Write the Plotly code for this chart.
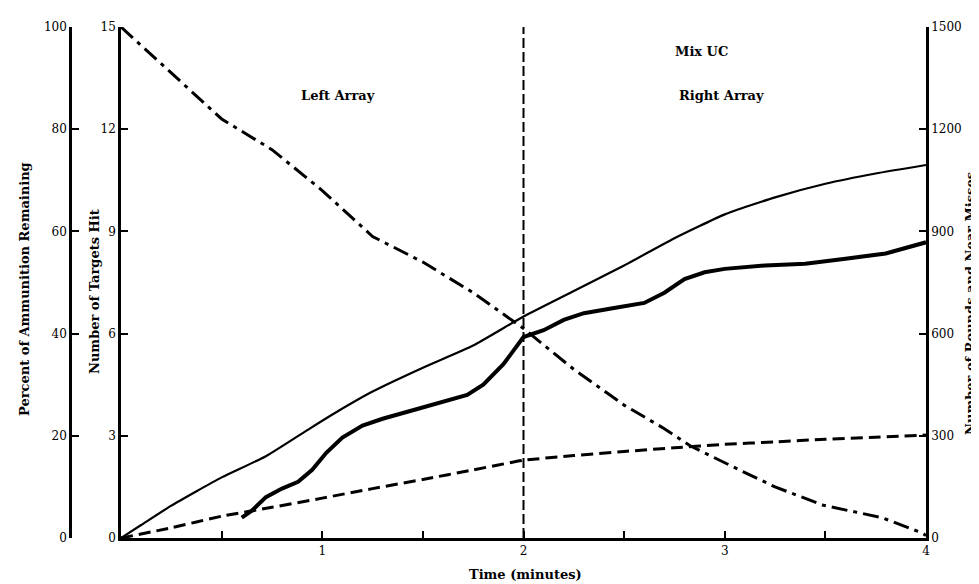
import plotly.graph_objects as go

# ---- data ----
t_rounds = [0, 0.1, 0.25, 0.5, 0.72, 0.94, 1.1, 1.25, 1.5, 1.75, 2.0, 2.25, 2.5, 2.75, 3.0, 3.25, 3.5, 3.75, 4.0]
rounds   = [0, 38, 95, 178, 240, 322, 380, 430, 500, 565, 650, 725, 800, 880, 950, 1000, 1040, 1070, 1095]

t_near = [0.6, 0.65, 0.72, 0.8, 0.88, 0.95, 1.02, 1.1, 1.2, 1.3, 1.45, 1.6, 1.72, 1.8, 1.9, 2.0,
          2.1, 2.2, 2.3, 2.45, 2.6, 2.7, 2.8, 2.9, 3.0, 3.2, 3.4, 3.6, 3.8, 4.0]
near_misses = [60, 80, 120, 145, 165, 200, 250, 295, 330, 350, 375, 400, 420, 450, 510, 590,
               610, 640, 660, 675, 690, 720, 760, 780, 790, 800, 805, 820, 835, 868]

t_hits = [0, 0.25, 0.5, 0.75, 1.0, 1.25, 1.5, 1.75, 2.0, 2.25, 2.5, 2.75, 3.0, 3.25, 3.5, 3.75, 4.0]
targets_hit = [0, 0.3, 0.64, 0.9, 1.17, 1.45, 1.72, 2.0, 2.28, 2.42, 2.54, 2.65, 2.75, 2.82, 2.9, 2.96, 3.02]

t_ammo = [0, 0.25, 0.5, 0.75, 1.0, 1.25, 1.5, 1.75, 2.0, 2.25, 2.5, 2.7, 2.83, 3.09, 3.25, 3.49, 3.78, 3.98, 4.0]
ammo_pct = [100, 91, 82, 76, 68, 59, 54, 48, 41, 33, 26, 21.4, 18, 13, 10, 6.4, 4, 1, 0.5]

x_tickvals = [0.5, 1, 1.5, 2, 2.5, 3, 3.5, 4]
x_ticktext = ["", "1", "", "2", "", "3", "", "4"]
pct_ticks = [0, 20, 40, 60, 80, 100]
hit_ticks = [0, 3, 6, 9, 12, 15]
round_ticks = [0, 300, 600, 900, 1200, 1500]

FONT = "DejaVu Serif"
BLK = "black"

fig = go.Figure()
fig.add_trace(go.Scatter(x=t_rounds, y=rounds, yaxis="y3", mode="lines",
                         line=dict(color=BLK, width=2.2, shape="spline", smoothing=0.5), showlegend=False))
fig.add_trace(go.Scatter(x=t_near, y=near_misses, yaxis="y3", mode="lines",
                         line=dict(color=BLK, width=4), showlegend=False))
fig.add_trace(go.Scatter(x=t_hits, y=targets_hit, yaxis="y", mode="lines",
                         line=dict(color=BLK, width=3, dash="12px,6px", shape="spline", smoothing=0.5),
                         showlegend=False))
fig.add_trace(go.Scatter(x=t_ammo, y=ammo_pct, yaxis="y2", mode="lines",
                         line=dict(color=BLK, width=3, dash="16px,6px,4px,6px"), showlegend=False))

ML, MR, MT, MB = 55, 61, 17, 54
W, H = 979, 584
pw = W - ML - MR
x0 = (113 - ML) / pw

axcommon = dict(showgrid=False, zeroline=False, showline=True, linecolor=BLK, linewidth=2.5,
                ticks="inside", ticklen=7, tickwidth=2, tickcolor=BLK,
                tickfont=dict(family=FONT, size=12, color=BLK))

fig.update_layout(
    width=W, height=H, margin=dict(l=ML, r=MR, t=MT, b=MB),
    paper_bgcolor="white", plot_bgcolor="white",
    xaxis=dict(domain=[x0, 1], range=[0, 4], tickvals=x_tickvals, ticktext=x_ticktext, **axcommon),
    yaxis=dict(range=[0, 15], tickvals=hit_ticks, side="left", anchor="x", **axcommon),
    yaxis2=dict(range=[0, 100], tickvals=pct_ticks, side="left", anchor="free",
                position=(62 - ML) / pw, overlaying="y", **axcommon),
    yaxis3=dict(range=[0, 1500], tickvals=round_ticks, side="right", anchor="x",
                overlaying="y", **axcommon),
)

# vertical divider at 2 minutes
fig.add_shape(type="line", xref="x", yref="paper", x0=2, x1=2, y0=0, y1=1,
              line=dict(color=BLK, width=2, dash="10px,4px"))

def ann(text, x, y, angle=0, size=13):
    fig.add_annotation(text=f"<b>{text}</b>", x=x, y=y, xref="paper", yref="paper", showarrow=False,
                       textangle=angle, font=dict(family=FONT, size=size, color=BLK),
                       xanchor="center", yanchor="middle")

def px(xp):
    return (xp - ML) / pw

def py(yp):
    return 1 - (yp - MT) / (H - MT - MB)

ann("Left Array", px(330), py(86))
ann("Mix UC", px(693), py(42))
ann("Right Array", px(713), py(86))
ann("Time (minutes)", px(517), py(567))
ann("Percent of Ammunition Remaining", px(17), py(280), angle=-90)
ann("Number of Targets Hit", px(87), py(283), angle=-90)
ann("Number of Rounds and Near Misses", px(963), py(295), angle=-90)

fig.write_html("out.html")
